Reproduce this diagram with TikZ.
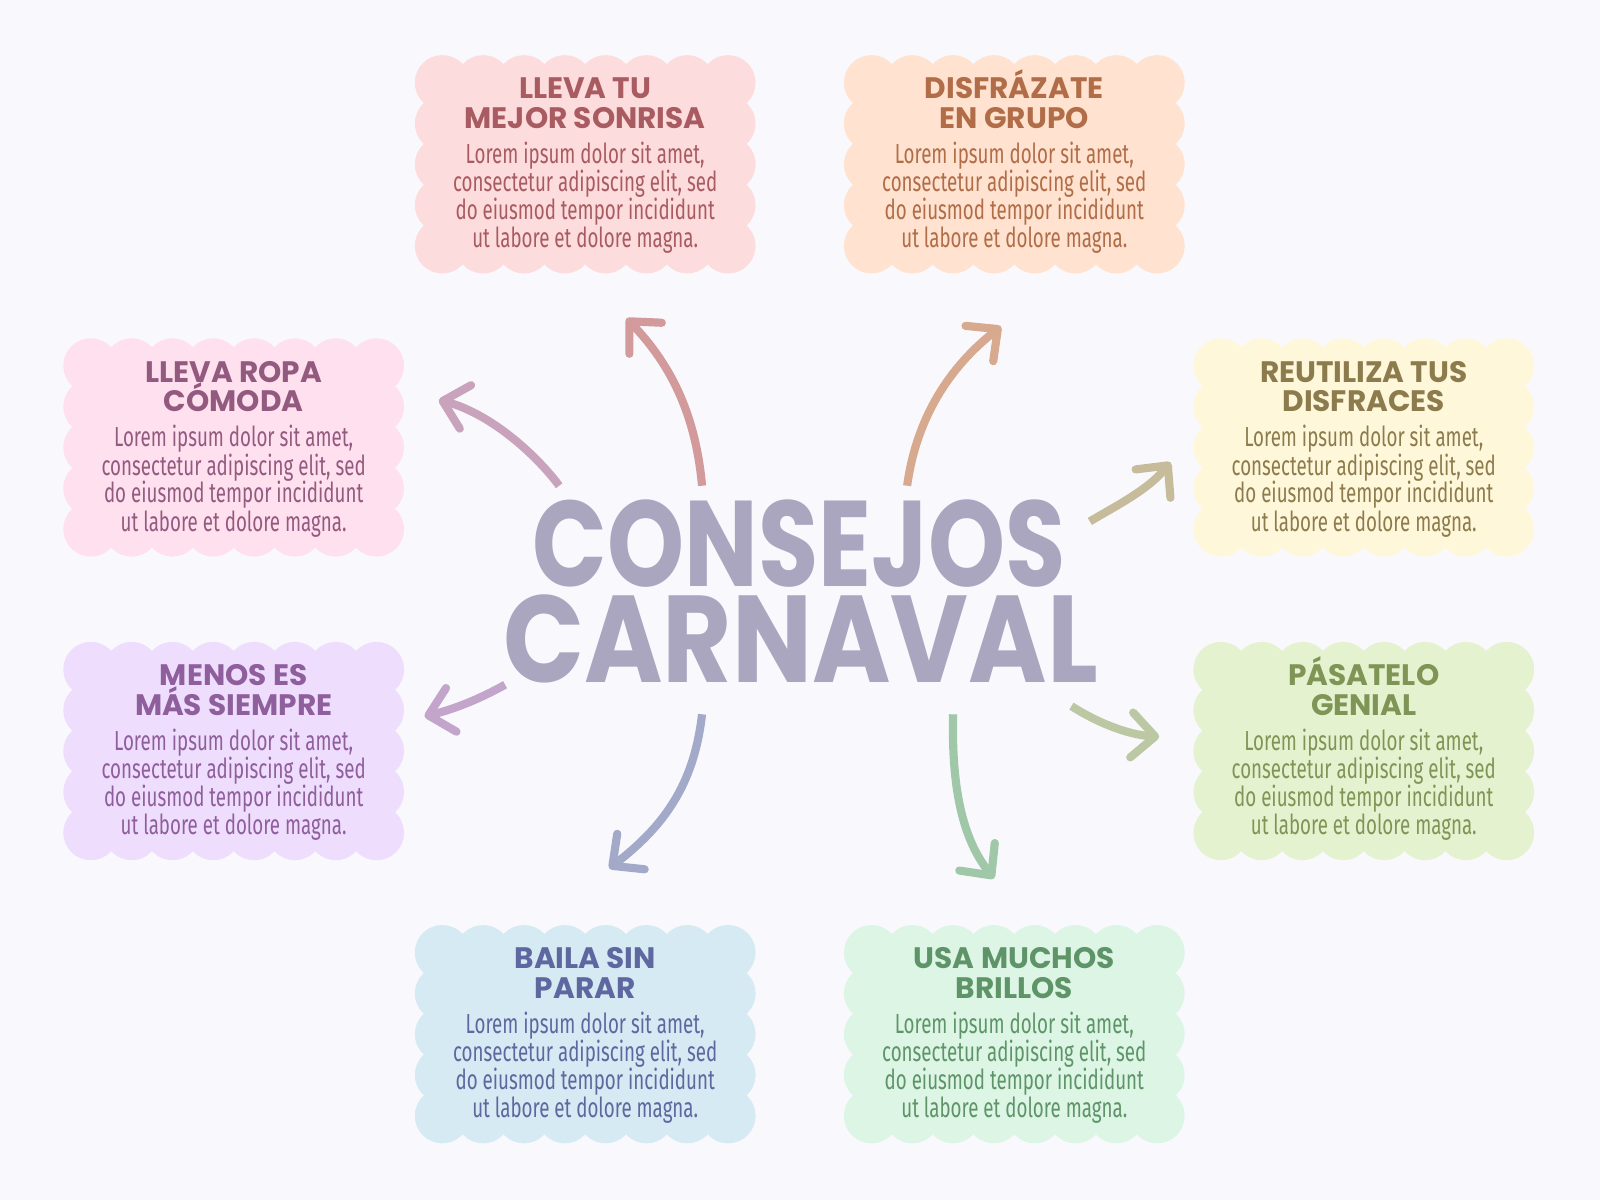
\documentclass[tikz,border=0pt]{standalone}
\usepackage{fontspec}
\usepackage{graphicx}
\usetikzlibrary{arrows.meta}
\newfontfamily\ttlfont{Poppins}
\newfontfamily\bdyfont{Fira Sans}[FakeStretch=0.68]
\definecolor{bgc}{HTML}{F9F9FD}
\definecolor{bigc}{HTML}{ABA6C0}
\definecolor{f1}{HTML}{FDDCDD}\definecolor{t1}{HTML}{A85B60}\definecolor{a1}{HTML}{D39A9C}
\definecolor{f2}{HTML}{FFE2CF}\definecolor{t2}{HTML}{B06D48}\definecolor{a2}{HTML}{D7A98E}
\definecolor{f3}{HTML}{FFE0EE}\definecolor{t3}{HTML}{935A80}\definecolor{a3}{HTML}{C9A3BC}
\definecolor{f4}{HTML}{FFF7DA}\definecolor{t4}{HTML}{8C7B4C}\definecolor{a4}{HTML}{C6BC9C}
\definecolor{f5}{HTML}{EEDDFC}\definecolor{t5}{HTML}{8F5E9C}\definecolor{a5}{HTML}{C3A5CC}
\definecolor{f6}{HTML}{E5F2CF}\definecolor{t6}{HTML}{7F9556}\definecolor{a6}{HTML}{BCC8A3}
\definecolor{f7}{HTML}{D5EAF2}\definecolor{t7}{HTML}{5E679F}\definecolor{a7}{HTML}{A3AAC9}
\definecolor{f8}{HTML}{DCF5E5}\definecolor{t8}{HTML}{5E9468}\definecolor{a8}{HTML}{A0C7A8}
\tikzset{
  pics/scallop/.style={code={
    \fill[#1] (-140,-97) rectangle (140,97);
    \fill[#1] (-157,-80) rectangle (157,80);
    \foreach \u in {-140,-100,...,140}{\fill[#1] (\u,-80) circle[radius=27pt]; \fill[#1] (\u,80) circle[radius=27pt];}
    \foreach \v in {-40,0,40}{\fill[#1] (-140,\v) circle[radius=27pt]; \fill[#1] (140,\v) circle[radius=27pt];}
  }},
  ttl/.style={font=\ttlfont\bfseries\fontsize{29}{30}\selectfont, anchor=base, inner sep=0pt},
  bdy/.style={font=\bdyfont\fontsize{27}{28}\selectfont, anchor=base, inner sep=0pt},
  bigt/.style={font=\ttlfont\bfseries\fontsize{120}{120}\selectfont, text=bigc, inner sep=0pt, anchor=base, text depth=0pt},
  arr/.style={line width=8pt, line cap=butt, -{Straight Barb[length=23pt,width=44pt,round]}}
}
\newcommand\tipbox[7]{%
  \pic at (#2,#3) {scallop=#4};
  \node[ttl,text=#5] (#1-t1) at (#2,#3-64) {#6};
  \node[ttl,text=#5] (#1-t2) at (#2,#3-35) {#7};
  \node[bdy,text=#5] (#1-b1) at (#2,#3-1) {Lorem ipsum dolor sit amet,};
  \node[bdy,text=#5] (#1-b2) at (#2,#3+27) {consectetur adipiscing elit, sed};
  \node[bdy,text=#5] (#1-b3) at (#2,#3+54) {do eiusmod tempor incididunt};
  \node[bdy,text=#5] (#1-b4) at (#2,#3+82) {ut labore et dolore magna.};
}
\begin{document}
\begin{tikzpicture}[x=1pt,y=-1pt]
\fill[bgc] (0,0) rectangle (1568,1176);
\useasboundingbox (0,0) rectangle (1568,1176);
% boxes
\tipbox{sonrisa}{573.5}{161}{f1}{t1}{LLEVA TU}{MEJOR SONRISA}
\tipbox{grupo}{994}{161}{f2}{t2}{DISFRÁZATE}{EN GRUPO}
\tipbox{ropa}{229}{438.5}{f3}{t3}{LLEVA ROPA}{CÓMODA}
\tipbox{reutiliza}{1336.5}{438.5}{f4}{t4}{REUTILIZA TUS}{DISFRACES}
\tipbox{menos}{229}{736}{f5}{t5}{MENOS ES}{MÁS SIEMPRE}
\tipbox{pasatelo}{1336.5}{736}{f6}{t6}{PÁSATELO}{GENIAL}
\tipbox{baila}{573.5}{1013.5}{f7}{t7}{BAILA SIN}{PARAR}
\tipbox{brillos}{994}{1013.5}{f8}{t8}{USA MUCHOS}{BRILLOS}
% center title
\node[bigt] (cons) at (783,575) {\resizebox{522pt}{85pt}{CONSEJOS}};
\node[bigt] (carn) at (784.5,669) {\resizebox{583pt}{86pt}{CARNAVAL}};
% arrow ends
\coordinate (s1) at (688,476); \coordinate (e1) at (614,312);
\coordinate (s2) at (889,476); \coordinate (e2) at (981,320);
\coordinate (s3) at (548,476); \coordinate (e3) at (430,392);
\coordinate (s4) at (1068,511); \coordinate (e4) at (1147,453);
\coordinate (s5) at (495,671); \coordinate (e5) at (416,702);
\coordinate (s6) at (1050,692); \coordinate (e6) at (1136,722);
\coordinate (s7) at (688,700); \coordinate (e7) at (597,851);
\coordinate (s8) at (934,700); \coordinate (e8) at (974,861);
\draw[arr,a1] (s1) .. controls (682,410) and (660,360) .. (e1);
\draw[arr,a2] (s2) .. controls (898,410) and (930,360) .. (e2);
\draw[arr,a3] (s3) .. controls (525,445) and (480,405) .. (e3);
\draw[arr,a4] (s4) .. controls (1095,495) and (1125,480) .. (e4);
\draw[arr,a5] (s5) .. controls (470,685) and (445,695) .. (e5);
\draw[arr,a6] (s6) .. controls (1075,708) and (1105,720) .. (e6);
\draw[arr,a7] (s7) .. controls (680,770) and (650,810) .. (e7);
\draw[arr,a8] (s8) .. controls (932,790) and (950,830) .. (e8);
\end{tikzpicture}
\end{document}
